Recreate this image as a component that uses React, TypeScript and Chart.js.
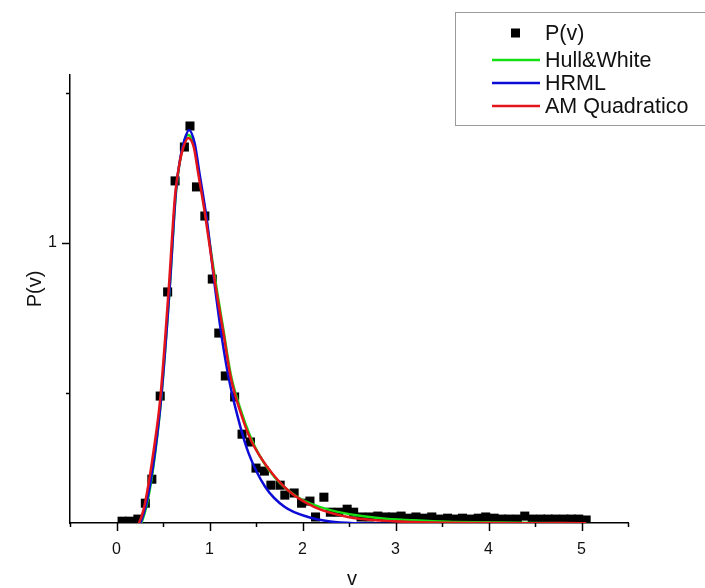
import React, { useEffect, useRef } from 'react';
import { Chart, registerables } from 'chart.js';

Chart.register(...registerables);

const FONT = '"Liberation Sans", Arial, Helvetica, sans-serif';

// Empirical distribution P(v) (black squares)
const dataX = [0.06, 0.14, 0.23, 0.31, 0.38, 0.47, 0.55, 0.63, 0.73, 0.79, 0.86, 0.95, 1.03, 1.10, 1.17, 1.27, 1.35, 1.44, 1.50, 1.59, 1.66, 1.76, 1.81, 1.91, 1.99, 2.08, 2.14, 2.23, 2.30, 2.39, 2.48, 2.55, 2.63, 2.72, 2.81, 2.89, 2.97, 3.06, 3.14, 3.22, 3.31, 3.39, 3.47, 3.56, 3.64, 3.72, 3.81, 3.89, 3.97, 4.06, 4.14, 4.22, 4.31, 4.39, 4.47, 4.56, 4.64, 4.72, 4.81, 4.89, 4.97, 5.05];
const dataY = [0.073, 0.073, 0.08, 0.133, 0.213, 0.49, 0.837, 1.207, 1.32, 1.39, 1.187, 1.09, 0.88, 0.70, 0.557, 0.487, 0.363, 0.337, 0.25, 0.24, 0.193, 0.193, 0.16, 0.167, 0.133, 0.14, 0.087, 0.153, 0.103, 0.103, 0.113, 0.103, 0.087, 0.087, 0.09, 0.087, 0.087, 0.09, 0.083, 0.087, 0.083, 0.087, 0.08, 0.083, 0.08, 0.083, 0.08, 0.083, 0.087, 0.083, 0.08, 0.08, 0.08, 0.09, 0.08, 0.08, 0.08, 0.08, 0.08, 0.08, 0.08, 0.077];

// Hull&White fit (green)
const hwX = [0.25, 0.32, 0.37, 0.42, 0.48, 0.57, 0.64, 0.72, 0.77, 0.83, 0.88, 0.95, 1.06, 1.15, 1.23, 1.34, 1.49, 1.70, 1.95, 2.30, 2.84, 3.20, 3.56, 4.00, 4.50, 5.05];
const hwY = [0.05, 0.12, 0.20, 0.31, 0.48, 0.84, 1.17, 1.33, 1.36, 1.33, 1.24, 1.11, 0.88, 0.71, 0.56, 0.44, 0.32, 0.22, 0.153, 0.11, 0.083, 0.076, 0.071, 0.069, 0.067, 0.066];

// HRML fit (blue)
const hrmlX = [0.24, 0.31, 0.36, 0.42, 0.48, 0.57, 0.64, 0.69, 0.73, 0.78, 0.84, 0.89, 0.97, 1.06, 1.14, 1.22, 1.33, 1.42, 1.60, 1.81, 2.06, 2.30, 2.60, 3.00, 3.50, 4.00, 4.50, 5.05];
const hrmlY = [0.05, 0.117, 0.193, 0.317, 0.483, 0.843, 1.177, 1.29, 1.343, 1.377, 1.333, 1.237, 1.08, 0.85, 0.67, 0.53, 0.39, 0.30, 0.187, 0.12, 0.087, 0.072, 0.066, 0.064, 0.063, 0.063, 0.063, 0.063];

// AM Quadratico fit (red)
const amX = [0.22, 0.29, 0.34, 0.40, 0.47, 0.56, 0.63, 0.68, 0.72, 0.77, 0.83, 0.88, 0.95, 1.06, 1.15, 1.23, 1.34, 1.45, 1.63, 1.84, 2.13, 2.49, 2.84, 3.20, 3.56, 4.00, 4.50, 5.05];
const amY = [0.05, 0.11, 0.19, 0.31, 0.48, 0.84, 1.16, 1.27, 1.32, 1.35, 1.32, 1.23, 1.10, 0.867, 0.70, 0.55, 0.43, 0.34, 0.25, 0.177, 0.12, 0.087, 0.075, 0.07, 0.068, 0.067, 0.066, 0.066];

const xTickValues = [-0.5, 0, 0.5, 1, 1.5, 2, 2.5, 3, 3.5, 4, 4.5, 5, 5.5];
const xTickLabels = ['', '0', '', '1', '', '2', '', '3', '', '4', '', '5', ''];
const yTickValues = [0.5, 1, 1.5];
const yTickLabels = ['', '1', ''];

const X_MIN = -0.5;
const X_MAX = 5.5;
const Y_MIN = 0.067;
const Y_MAX = 1.56;

const seriesLabels = ['P(v)', 'Hull&White', 'HRML', 'AM Quadratico'];
const seriesColors = ['#000000', '#14e014', '#0c0cd6', '#e3151b'];

const zip = (xs: number[], ys: number[]) => xs.map((x, i) => ({ x, y: ys[i] }));

const decor = {
  id: 'decor',
  afterDraw(chart: any) {
    const ctx = chart.ctx as CanvasRenderingContext2D;
    const xs = chart.scales.x;
    const ys = chart.scales.y;
    const ca = chart.chartArea;
    ctx.save();
    // tick marks (outward)
    ctx.strokeStyle = '#000';
    ctx.lineWidth = 1.5;
    xTickValues.forEach((v, i) => {
      const px = Math.round(xs.getPixelForValue(v)) + 0.5;
      const len = xTickLabels[i] ? 8 : 4;
      ctx.beginPath();
      ctx.moveTo(px, ca.bottom);
      ctx.lineTo(px, ca.bottom + len);
      ctx.stroke();
    });
    yTickValues.forEach((v, i) => {
      const py = Math.round(ys.getPixelForValue(v)) + 0.5;
      const len = yTickLabels[i] ? 8 : 4;
      ctx.beginPath();
      ctx.moveTo(ca.left, py);
      ctx.lineTo(ca.left - len, py);
      ctx.stroke();
    });
    // axis titles
    ctx.fillStyle = '#111';
    ctx.font = `20px ${FONT}`;
    ctx.textAlign = 'center';
    ctx.textBaseline = 'middle';
    ctx.fillText('v', (ca.left + ca.right) / 2 + 3, 579);
    ctx.save();
    ctx.translate(35, 289);
    ctx.rotate(-Math.PI / 2);
    ctx.fillText('P(v)', 0, 0);
    ctx.restore();

    // legend box
    ctx.strokeStyle = '#9a9a9a';
    ctx.lineWidth = 1;
    ctx.strokeRect(455.5, 12.5, 270, 113);
    ctx.font = `21.5px ${FONT}`;
    ctx.textAlign = 'left';
    ctx.textBaseline = 'middle';
    const rows = [33, 60, 83, 106];
    chart.data.datasets.forEach((ds: any, i: number) => {
      const y = rows[i];
      if (i === 0) {
        ctx.fillStyle = '#000';
        ctx.fillRect(511, y - 4.5, 9, 9);
      } else {
        ctx.strokeStyle = ds.borderColor;
        ctx.lineWidth = 2.5;
        ctx.beginPath();
        ctx.moveTo(492, y);
        ctx.lineTo(540, y);
        ctx.stroke();
      }
      ctx.fillStyle = '#111';
      ctx.fillText(ds.label, 545, y + 1);
    });
    ctx.restore();
  },
};

export default function App() {
  const ref = useRef<HTMLCanvasElement>(null);
  useEffect(() => {
    const lineDs = (label: string, color: string, xs: number[], ys: number[], order: number) => ({
      type: 'line' as const,
      label,
      data: zip(xs, ys),
      borderColor: color,
      backgroundColor: color,
      borderWidth: 2.5,
      pointRadius: 0,
      fill: false,
      cubicInterpolationMode: 'monotone' as const,
      order,
    });
    const chart = new Chart(ref.current as HTMLCanvasElement, {
      type: 'line',
      data: {
        datasets: [
          {
            type: 'line',
            label: seriesLabels[0],
            data: zip(dataX, dataY),
            showLine: false,
            pointStyle: 'rect',
            pointRadius: 6.4,
            pointBorderWidth: 0,
            backgroundColor: seriesColors[0],
            borderColor: seriesColors[0],
            order: 10,
          } as any,
          lineDs(seriesLabels[1], seriesColors[1], hwX, hwY, 3),
          lineDs(seriesLabels[2], seriesColors[2], hrmlX, hrmlY, 2),
          lineDs(seriesLabels[3], seriesColors[3], amX, amY, 1),
        ],
      },
      options: {
        responsive: false,
        animation: false,
        layout: { padding: { left: 0, top: 75, right: 77, bottom: 0 } },
        plugins: { legend: { display: false }, tooltip: { enabled: false } },
        scales: {
          x: {
            type: 'linear',
            min: X_MIN,
            max: X_MAX,
            afterBuildTicks: (s: any) => {
              s.ticks = xTickValues.map((v) => ({ value: v }));
            },
            afterFit: (s: any) => {
              s.height = 65;
            },
            grid: { display: false, drawTicks: false },
            border: { display: true, color: '#000', width: 1.5 },
            ticks: {
              autoSkip: false,
              maxRotation: 0,
              padding: 17,
              color: '#111',
              font: { family: FONT, size: 16 },
              callback: (_v: any, i: number) => xTickLabels[i],
            },
          },
          y: {
            type: 'linear',
            min: Y_MIN,
            max: Y_MAX,
            afterBuildTicks: (s: any) => {
              s.ticks = yTickValues.map((v) => ({ value: v }));
            },
            afterFit: (s: any) => {
              s.width = 70;
            },
            grid: { display: false, drawTicks: false },
            border: { display: true, color: '#000', width: 1.5 },
            ticks: {
              autoSkip: false,
              padding: 13,
              color: '#111',
              font: { family: FONT, size: 16 },
              callback: (_v: any, i: number) => yTickLabels[i],
            },
          },
        },
      } as any,
      plugins: [decor],
    });
    return () => chart.destroy();
  }, []);
  return (
    <div style={{ position: 'absolute', left: 0, top: 0, width: 705, height: 588, background: '#fff', overflow: 'hidden' }}>
      <canvas ref={ref} width={705} height={588} style={{ width: 705, height: 588, display: 'block' }} />
    </div>
  );
}
